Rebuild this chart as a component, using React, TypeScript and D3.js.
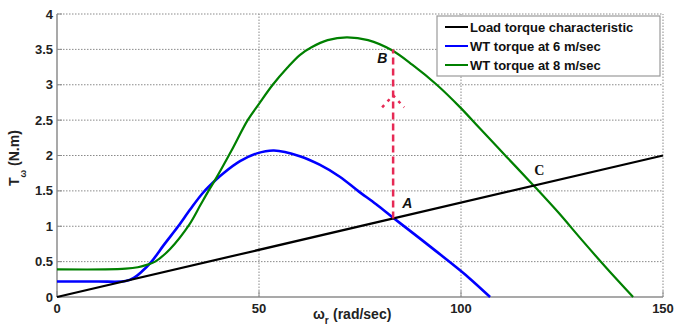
import React from "react";
import * as d3 from "d3";

// rotor speed (rad/sec) and torque (N.m)
const loadOmega = [0, 150];
const loadTorque = [0, 2];

const omega6 = [0, 10, 17, 19, 21, 23.4, 26.5, 30, 33, 36.1, 39.4, 41.2, 45.3, 49.5, 53.7, 60.1, 65, 70, 74.5, 79, 83.2, 86.6, 92, 97.3, 102, 107.2];
const torque6 = [0.22, 0.22, 0.225, 0.27, 0.36, 0.5, 0.74, 1.0, 1.24, 1.47, 1.66, 1.75, 1.92, 2.03, 2.07, 1.99, 1.87, 1.7, 1.5, 1.31, 1.12, 0.97, 0.73, 0.49, 0.27, 0];

const omega8 = [0, 12, 17, 20, 22, 24.3, 28, 32.7, 35.5, 37.5, 39.4, 43.2, 47.2, 50, 53.4, 57, 60.1, 63, 67, 71.7, 77, 82.8, 88, 94, 99.8, 104.7, 111.3, 117.9, 124, 130, 136, 142.6];
const torque8 = [0.39, 0.39, 0.4, 0.42, 0.45, 0.5, 0.68, 1.02, 1.3, 1.5, 1.68, 2.07, 2.5, 2.73, 3.0, 3.24, 3.42, 3.53, 3.63, 3.67, 3.63, 3.49, 3.28, 3.0, 2.68, 2.38, 1.98, 1.58, 1.2, 0.8, 0.41, 0];

const xTicks = [0, 50, 100, 150];
const yTicks = [0, 0.5, 1, 1.5, 2, 2.5, 3, 3.5, 4];
const yTickLabels = ["0", "0.5", "1", "1.5", "2", "2.5", "3", "3.5", "4"];

const pointA = { omega: 83.2, torque: 1.11 };
const pointB = { omega: 83.2, torque: 3.5 };
const arrowTip = 2.85;
const pointC = { omega: 117.9, torque: 1.57 };

const legendItems = [
  { label: "Load torque characteristic", color: "#000000" },
  { label: "WT torque at 6 m/sec", color: "#0000ff" },
  { label: "WT torque at 8 m/sec", color: "#008000" },
];

const font = "'Liberation Sans', Arial, sans-serif";

export default function App() {
  const width = 676;
  const height = 336;
  const x = d3.scaleLinear().domain([0, 150]).range([57, 663]);
  const y = d3.scaleLinear().domain([0, 4]).range([297, 14]);

  const line = d3
    .line<[number, number]>()
    .x((d) => x(d[0]))
    .y((d) => y(d[1]))
    .curve(d3.curveCatmullRom.alpha(0.5));

  const zip = (a: number[], b: number[]) => a.map((v, i) => [v, b[i]] as [number, number]);

  const series = [
    { pts: zip(omega6, torque6), color: "#0000ff", w: 2.6 },
    { pts: zip(omega8, torque8), color: "#008000", w: 2.2 },
    { pts: zip(loadOmega, loadTorque), color: "#000000", w: 2.2 },
  ];

  const red = "#e62a55";
  const ax = x(pointA.omega);
  const tipY = y(arrowTip);

  return (
    <svg
      width={width}
      height={height}
      style={{ position: "absolute", left: 0, top: 0, background: "#fff" }}
      fontFamily={font}
    >
      {/* grid */}
      {yTicks.slice(1).map((t) => (
        <line key={"gy" + t} x1={x(0)} x2={x(150)} y1={y(t)} y2={y(t)} stroke="#8a8a8a" strokeWidth={1} strokeDasharray="1.5,1.5" />
      ))}
      {xTicks.slice(1).map((t) => (
        <line key={"gx" + t} x1={x(t)} x2={x(t)} y1={y(0)} y2={y(4)} stroke="#8a8a8a" strokeWidth={1} strokeDasharray="1.5,1.5" />
      ))}

      {/* axes */}
      <line x1={x(0)} x2={x(0)} y1={y(0)} y2={y(4)} stroke="#8c8c8c" strokeWidth={1.5} />
      <line x1={x(0)} x2={x(150)} y1={y(0)} y2={y(0)} stroke="#8c8c8c" strokeWidth={1.5} />
      {xTicks.map((t) => (
        <line key={"tx" + t} x1={x(t)} x2={x(t)} y1={y(0)} y2={y(0) - 6} stroke="#8c8c8c" strokeWidth={1} />
      ))}
      {yTicks.map((t) => (
        <line key={"ty" + t} x1={x(0)} x2={x(0) + 5} y1={y(t)} y2={y(t)} stroke="#8c8c8c" strokeWidth={1} />
      ))}

      {yTicks.map((t, i) => (
        <text key={"ly" + t} x={53} y={y(t)} dy="0.35em" textAnchor="end" fontSize={13} fontWeight="bold" fill="#222">
          {yTickLabels[i]}
        </text>
      ))}
      {xTicks.map((t) => (
        <text key={"lx" + t} x={x(t)} y={313} textAnchor="middle" fontSize={13} fontWeight="bold" fill="#222">
          {t}
        </text>
      ))}

      {/* curves */}
      {series.map((s, i) => (
        <path key={i} d={line(s.pts) || ""} fill="none" stroke={s.color} strokeWidth={s.w} />
      ))}

      {/* A -> B dashed arrow */}
      <line x1={ax} x2={ax} y1={y(pointA.torque)} y2={y(pointB.torque)} stroke={red} strokeWidth={2.5} strokeDasharray="7,4" />
      <path
        d={`M${ax - 11},${tipY + 12} L${ax},${tipY} L${ax + 11},${tipY + 12}`}
        fill="none"
        stroke={red}
        strokeWidth={2.5}
        strokeDasharray="3,5"
      />
      <text x={ax + 9} y={y(pointA.torque) - 10} fontSize={14} fontWeight="bold" fontStyle="italic" fill="#111">A</text>
      <text x={ax - 16} y={y(pointB.torque) + 14} fontSize={14} fontWeight="bold" fontStyle="italic" fill="#111">B</text>
      <text x={x(pointC.omega) + 1} y={y(pointC.torque) - 11} fontSize={14} fontWeight="bold" fill="#111" fontFamily="'Liberation Serif', 'Times New Roman', serif">C</text>

      {/* legend */}
      <rect x={437} y={16} width={223} height={60} fill="#fff" stroke="#9a9a9a" strokeWidth={1.2} />
      {legendItems.map((d, i) => (
        <g key={d.label}>
          <line x1={445} x2={468} y1={27 + i * 19} y2={27 + i * 19} stroke={d.color} strokeWidth={2} />
          <text x={470} y={31.5 + i * 19} fontSize={13} fontWeight="bold" fill="#111">{d.label}</text>
        </g>
      ))}

      {/* axis labels */}
      <text x={313} y={319} fontSize={14} fontWeight="bold" fill="#222">
        ω<tspan dy={5} fontSize={10}>r</tspan>
      </text>
      <text x={333} y={319} fontSize={14} fontWeight="bold" fill="#222">(rad/sec)</text>
      <text transform="translate(19,186) rotate(-90)" fontSize={14} fontWeight="bold" fill="#222">
        T<tspan dy={7} fontSize={9}>ω</tspan>
        <tspan dy={-7}> (N.m)</tspan>
      </text>
    </svg>
  );
}
